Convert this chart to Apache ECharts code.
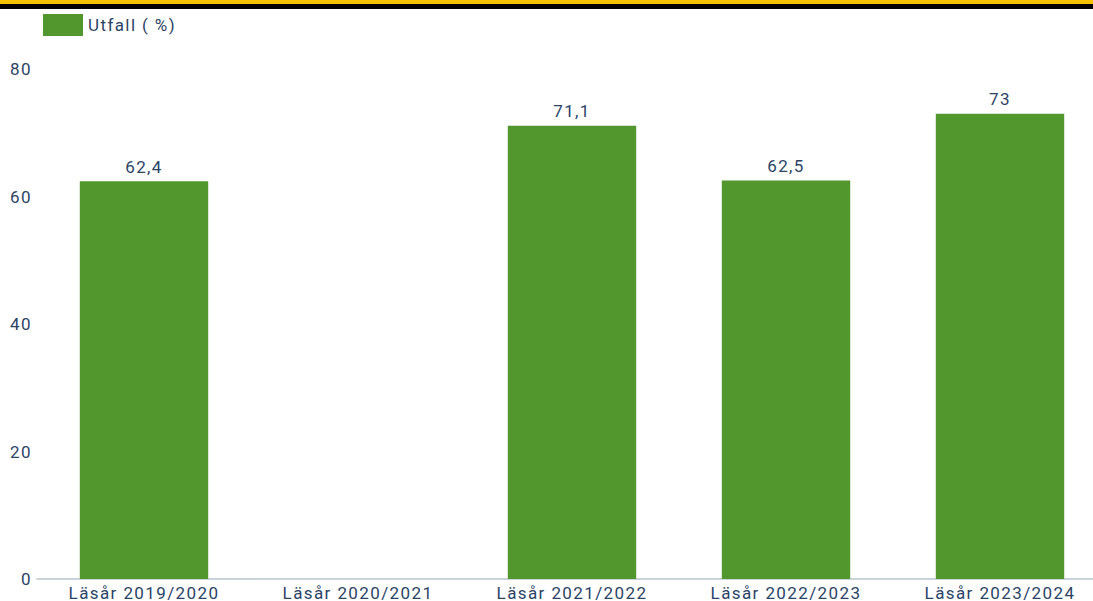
<!DOCTYPE html>
<html>
<head>
<meta charset="utf-8">
<script src="https://cdn.jsdelivr.net/npm/echarts@6/dist/echarts.min.js"></script>
<style>
  html, body { margin: 0; padding: 0; background: #fff; overflow: hidden; }
  #wrap { position: relative; width: 1093px; height: 601px; overflow: hidden; }
  #topbar { position: absolute; left: 0; top: 0; width: 1093px; height: 4px; background: #f5c000; }
  #topbar2 { position: absolute; left: 0; top: 4px; width: 1093px; height: 5px; background: #000; }
  #chart { width: 1107px; height: 601px; }
  #chart text { letter-spacing: 1.4px; }
</style>
</head>
<body>
<div id="wrap">
  <div id="chart"></div>
  <div id="topbar"></div>
  <div id="topbar2"></div>
</div>
<script>
// läsår och utfall
const categories = ['Läsår 2019/2020', 'Läsår 2020/2021', 'Läsår 2021/2022', 'Läsår 2022/2023', 'Läsår 2023/2024']
const utfall = [62.4, null, 71.1, 62.5, 73]
const yTicks = [0, 20, 40, 60, 80]

const textColor = '#2b4466'
const chart = echarts.init(document.getElementById('chart'), null, { renderer: 'svg' })
chart.setOption({
  animation: false,
  textStyle: { fontFamily: 'Roboto' },
  legend: {
    left: 43,
    top: 14,
    padding: 0,
    icon: 'rect',
    itemWidth: 40,
    itemHeight: 22,
    textStyle: { color: textColor, fontSize: 17, fontFamily: 'Roboto' },
    data: ['Utfall ( %)']
  },
  grid: {
    left: 37,
    right: 0,
    top: 69,
    bottom: 21,
    containLabel: false
  },
  xAxis: {
    type: 'category',
    data: categories,
    axisLine: { lineStyle: { color: '#b8c4d0', width: 1.5 } },
    axisTick: { show: false },
    axisLabel: { color: textColor, fontSize: 17, margin: 5 }
  },
  yAxis: {
    type: 'value',
    min: yTicks[0],
    max: yTicks[yTicks.length - 1],
    interval: 20,
    splitLine: { show: false },
    axisLine: { show: false },
    axisTick: { show: false },
    axisLabel: { color: textColor, fontSize: 17, margin: 5 }
  },
  series: [
    {
      name: 'Utfall ( %)',
      type: 'bar',
      data: utfall,
      barWidth: '60%',
      itemStyle: { color: '#52972e' },
      label: {
        show: true,
        position: 'top',
        distance: 6,
        color: textColor,
        fontSize: 17,
        formatter: p => String(p.value).replace('.', ',')
      }
    }
  ]
})
</script>
</body>
</html>
